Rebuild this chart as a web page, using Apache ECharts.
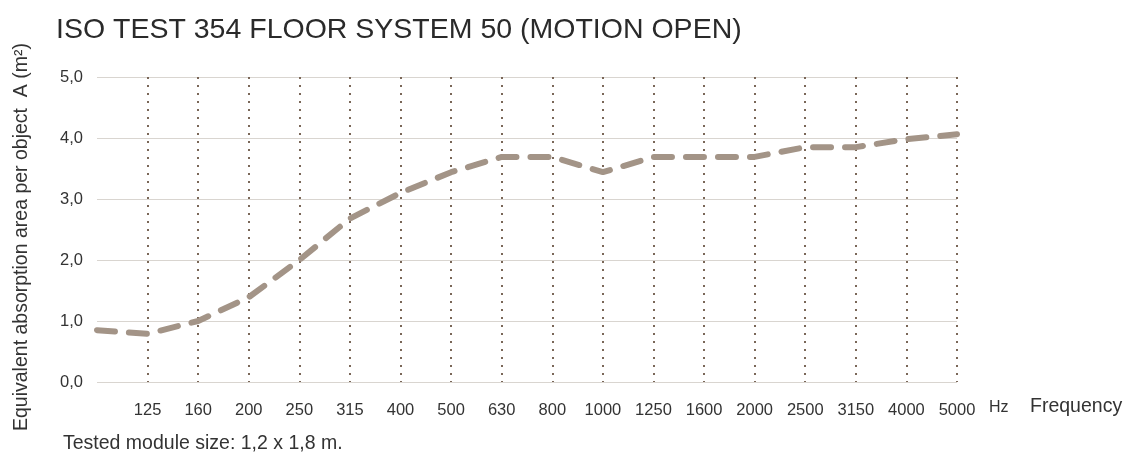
<!DOCTYPE html>
<html>
<head>
<meta charset="utf-8">
<script src="https://cdn.jsdelivr.net/npm/echarts@6/dist/echarts.min.js"></script>
<style>html,body{margin:0;padding:0;background:#fff}#c{width:1134px;height:455px}</style>
</head>
<body>
<div id="c"></div>
<script>
const categories = ['100','125','160','200','250','315','400','500','630','800','1000','1250','1600','2000','2500','3150','4000','5000'];
const values = [0.85,0.79,1.0,1.39,2.0,2.68,3.1,3.44,3.69,3.69,3.44,3.69,3.69,3.69,3.85,3.85,3.98,4.06];
const yTicks = {min:0, max:5, interval:1};
const titleText = 'ISO TEST 354 FLOOR SYSTEM 50 (MOTION OPEN)';
const yName = 'Equivalent absorption area per object  A (m²)';
const footText = 'Tested module size: 1,2 x 1,8 m.';

const chart = echarts.init(document.getElementById('c'), null, {renderer:'canvas'});
const font = '"Liberation Sans", Arial, sans-serif';
chart.setOption({
  animation:false,
  backgroundColor:'#fff',
  title:{text:titleText,left:51,top:11,textStyle:{fontFamily:font,fontWeight:'normal',fontSize:28.5,color:'#2a2a2a'}},
  grid:{left:97,right:177,top:77,bottom:73,containLabel:false},
  xAxis:{
    type:'category',data:categories,boundaryGap:false,
    axisLine:{show:false},axisTick:{show:false},
    axisLabel:{margin:20,fontFamily:font,fontSize:16.5,color:'#333',
      formatter:(v,i)=> i===0?'':v, interval:0},
    splitLine:{show:true,interval:(i)=>i!==0,lineStyle:{color:'#7a6758',width:2,type:[2,6]}}
  },
  yAxis:{
    type:'value',min:yTicks.min,max:yTicks.max,interval:yTicks.interval,
    axisLine:{show:false},axisTick:{show:false},
    axisLabel:{margin:14,fontFamily:font,fontSize:16.5,color:'#333',formatter:v=>v.toFixed(1).replace('.',',')},
    splitLine:{lineStyle:{color:'#d9d5d0',width:1}}
  },
  graphic:[
    {type:'text',left:989,top:400,style:{text:'Hz',font:'16px '+font,fill:'#333'}},
    {type:'text',left:1030,top:397,style:{text:'Frequency',font:'19.5px '+font,fill:'#333'}},
    {type:'text',left:63,top:434,style:{text:footText,font:'19.5px '+font,fill:'#333'}},
    {type:'text',x:22,y:237,rotation:Math.PI/2,style:{text:yName,font:'19.5px '+font,fill:'#333',align:'center',verticalAlign:'middle'}}
  ],
  series:[{
    type:'line',data:values,symbol:'none',smooth:false,
    lineStyle:{color:'#a39487',width:6,type:[18,14],cap:'round'}
  }]
});
</script>
</body>
</html>
